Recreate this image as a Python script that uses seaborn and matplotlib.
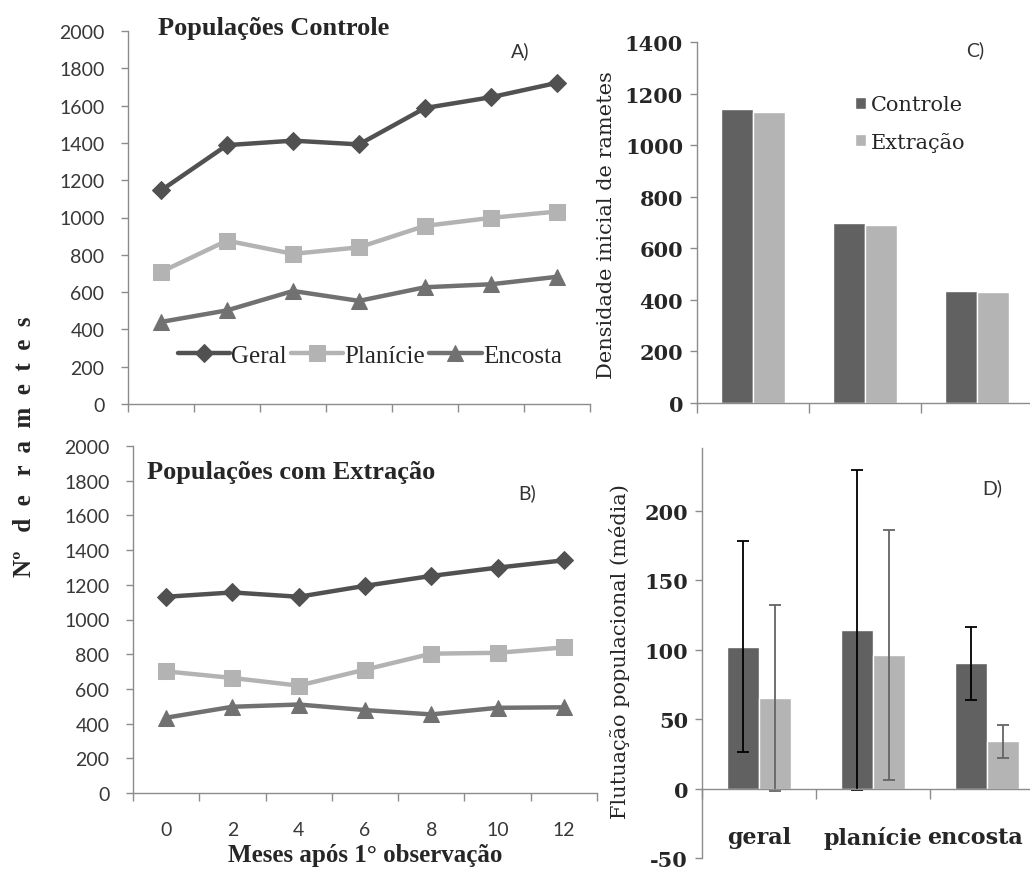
import numpy as np
import pandas as pd
import seaborn as sns
import matplotlib.pyplot as plt
import matplotlib.transforms as mtransforms

## data
meses = [0, 2, 4, 6, 8, 10, 12]
controle_geral = [1145, 1388, 1412, 1392, 1587, 1645, 1722]
controle_planicie = [708, 876, 805, 840, 955, 998, 1032]
controle_encosta = [440, 502, 606, 553, 626, 642, 682]
extracao_geral = [1131, 1156, 1131, 1194, 1251, 1299, 1341]
extracao_planicie = [701, 663, 619, 711, 803, 808, 839]
extracao_encosta = [434, 497, 510, 478, 453, 491, 494]

locais = ['geral', 'planície', 'encosta']
grupos = ['Controle', 'Extração']
dens_controle = [1140, 700, 435]
dens_extracao = [1130, 690, 430]
flut_controle = [102, 114, 90]
flut_extracao = [65, 96, 34]
flut_controle_err = [76, 115, 26]
flut_extracao_err = [67, 90, 12]

series = ['Geral', 'Planície', 'Encosta']
cores = {'Geral': '#515151', 'Planície': '#b3b3b3', 'Encosta': '#717171'}
marcadores = {'Geral': 'D', 'Planície': 's', 'Encosta': '^'}
tam_marc = {'Geral': 9, 'Planície': 11, 'Encosta': 12}
cor_barras = ['#616161', '#b4b4b4']

sns.set_theme(style='white')
plt.rcParams['font.family'] = ['Liberation Serif', 'DejaVu Serif']
plt.rcParams['axes.unicode_minus'] = False
SANS = 'Lato'
SERIF = 'Liberation Serif'
SERIF2 = 'DejaVu Serif'
SPINE = '#8c8c8c'

W, H = 1030, 870
fig = plt.figure(figsize=(W / 100, H / 100), dpi=100)


def rect(l, r, t, b):
    return [l / W, 1 - b / H, (r - l) / W, (b - t) / H]


def ftext(x, y, s, **kw):
    fig.text(x / W, 1 - y / H, s, **kw)


def estilo_linhas(ax, labels):
    ax.set_xlim(-1, 13)
    ax.set_ylim(0, 2000)
    ax.set_yticks(range(0, 2001, 200))
    ax.set_xticks(range(-1, 14, 2))
    ax.set_xticklabels([])
    ax.set_xticks(meses, minor=True)
    if labels:
        ax.set_xticklabels([str(m) for m in meses], minor=True)
    ax.tick_params(axis='x', which='major', direction='out', length=6,
                   width=1, color=SPINE, bottom=True)
    ax.tick_params(axis='x', which='minor', length=0, pad=20,
                   labelsize=14, labelcolor='#383838')
    ax.tick_params(axis='y', direction='out', length=5, width=1,
                   color=SPINE, left=True, labelsize=14,
                   labelcolor='#383838', pad=12)
    for lab in ax.get_yticklabels() + ax.get_xticklabels(minor=True):
        lab.set_family(SANS)
    sns.despine(ax=ax)
    for sp in ['left', 'bottom']:
        ax.spines[sp].set_color(SPINE)
        ax.spines[sp].set_linewidth(1)
    ax.set_xlabel('')
    ax.set_ylabel('')


def desenha_linhas(ax, dados):
    for nome, vals in zip(series, dados):
        sns.lineplot(x=meses, y=vals, ax=ax, color=cores[nome],
                     marker=marcadores[nome], markersize=tam_marc[nome],
                     markeredgecolor=cores[nome], lw=3.2, label=nome)


## A) Populações Controle
axA = fig.add_axes(rect(128, 590, 32, 405))
desenha_linhas(axA, [controle_geral, controle_planicie, controle_encosta])
estilo_linhas(axA, labels=False)
axA.legend(loc='center', bbox_to_anchor=(0.523, 0.129), ncol=3, frameon=False,
           handlelength=2.1, handletextpad=0.05, columnspacing=0.15,
           prop={'family': SERIF, 'size': 18})

## B) Populações com Extração
axB = fig.add_axes(rect(133, 597, 447, 794))
desenha_linhas(axB, [extracao_geral, extracao_planicie, extracao_encosta])
estilo_linhas(axB, labels=True)
axB.get_legend().remove()

ftext(158, 28, 'Populações Controle', fontsize=19, fontweight='bold',
      family=SERIF, va='center')
ftext(520, 51, 'A)', fontsize=14, family=SANS, va='center', ha='center',
      color='#333333')
ftext(147, 472, 'Populações com Extração', fontsize=19, fontweight='bold',
      family=SERIF, va='center')
ftext(527, 493, 'B)', fontsize=14, family=SANS, va='center', ha='center',
      color='#333333')
ftext(365, 856, 'Meses após 1° observação', fontsize=18, fontweight='bold',
      family=SERIF, ha='center', va='center')
ftext(25, 447, 'Nº   d  e   r  a  m  e  t  e  s', fontsize=18,
      fontweight='bold', family=SERIF, rotation=90, ha='center', va='center')


def estilo_barras(ax):
    ax.set_xlim(-0.5, 2.5)
    ax.set_xticks([-0.5, 0.5, 1.5, 2.5])
    ax.set_xticklabels([])
    ax.tick_params(axis='x', which='major', direction='out', length=7,
                   width=1, color=SPINE, bottom=True)
    ax.tick_params(axis='y', direction='out', length=5, width=1,
                   color=SPINE, left=True, labelsize=15, pad=5)
    for lab in ax.get_yticklabels():
        lab.set_family(SERIF2)
        lab.set_fontweight('bold')
    sns.despine(ax=ax)
    for sp in ['left', 'bottom']:
        ax.spines[sp].set_color(SPINE)
        ax.spines[sp].set_linewidth(1)
    ax.set_xlabel('')
    ax.set_ylabel('')


## C) densidade inicial
dens = pd.DataFrame({'local': locais * 2,
                     'grupo': [grupos[0]] * 3 + [grupos[1]] * 3,
                     'valor': dens_controle + dens_extracao})
axC = fig.add_axes(rect(697, 1033, 43, 404))
sns.barplot(data=dens, x='local', y='valor', hue='grupo', palette=cor_barras,
            width=0.57, saturation=1, errorbar=None, ax=axC)
axC.set_ylim(0, 1400)
axC.set_yticks(range(0, 1401, 200))
estilo_barras(axC)
axC.legend(loc='upper left', bbox_to_anchor=(0.415, 0.905), frameon=False,
           handlelength=0.5, handleheight=0.5, handletextpad=0.25,
           labelspacing=0.85, prop={'family': SERIF2, 'size': 15})
ftext(607, 225, 'Densidade inicial de rametes', fontsize=15, family=SERIF2,
      rotation=90, ha='center', va='center')
ftext(975, 50, 'C)', fontsize=14, family=SANS, va='center', ha='center',
      color='#333333')

## D) flutuação populacional
flut = pd.DataFrame({'local': locais * 2,
                     'grupo': [grupos[0]] * 3 + [grupos[1]] * 3,
                     'valor': flut_controle + flut_extracao})
axD = fig.add_axes(rect(702, 1044, 449, 859))
sns.barplot(data=flut, x='local', y='valor', hue='grupo', palette=cor_barras,
            width=0.56, saturation=1, errorbar=None, legend=False, ax=axD)
for cont, err, cor in zip(axD.containers,
                          [flut_controle_err, flut_extracao_err],
                          ['black', '#656565']):
    xs = [p.get_x() + p.get_width() / 2 for p in cont.patches]
    ys = [p.get_height() for p in cont.patches]
    axD.errorbar(xs, ys, yerr=err, fmt='none', ecolor=cor, elinewidth=1.3,
                 capsize=4.5, capthick=1.3)
axD.set_ylim(-50, 245)
axD.set_yticks(range(-50, 201, 50))
estilo_barras(axD)
axD.spines['bottom'].set_position(('data', 0))
axD.set_xticks([0, 1, 2], minor=True)
axD.set_xticklabels(locais, minor=True)
axD.tick_params(axis='x', which='minor', length=0, pad=27, labelsize=16)
for lab in axD.get_xticklabels(minor=True):
    lab.set_family(SERIF2)
    lab.set_fontweight('bold')
# the last label sits a little left of its bars so it fits in the figure
desloc = mtransforms.ScaledTranslation(-12 / 100, 0, fig.dpi_scale_trans)
ultimo = axD.get_xticklabels(minor=True)[-1]
ultimo.set_transform(ultimo.get_transform() + desloc)
ftext(620, 652, 'Flutuação populacional (média)', fontsize=15,
      family=SERIF2, rotation=90, ha='center', va='center')
ftext(992, 488, 'D)', fontsize=14, family=SANS, va='center', ha='center',
      color='#333333')

fig.savefig('out.png', dpi=100)
